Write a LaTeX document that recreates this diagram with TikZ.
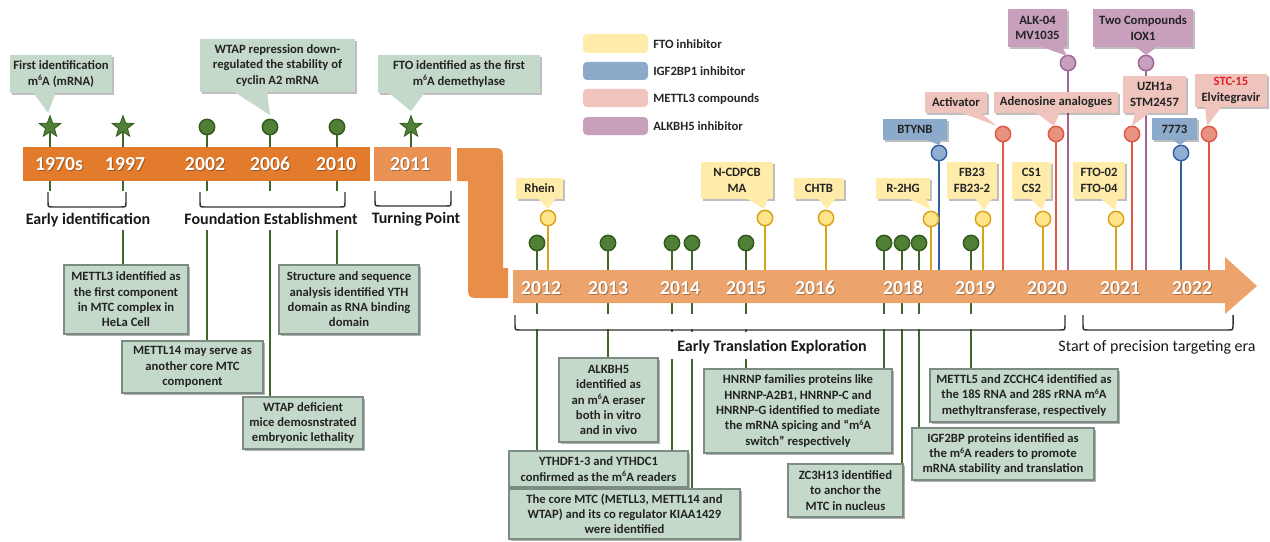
\documentclass[tikz,border=0pt]{standalone}
\usepackage{fontspec}
\setmainfont{Carlito}
\usetikzlibrary{shapes.geometric,shadows,calc}
\definecolor{barA}{RGB}{227,123,44}
\definecolor{barB}{RGB}{234,146,84}
\definecolor{barC}{RGB}{232,142,72}
\definecolor{barD}{RGB}{237,164,108}
\definecolor{boxfill}{RGB}{197,217,202}
\definecolor{boxline}{RGB}{125,140,130}
\definecolor{gline}{RGB}{61,104,40}
\definecolor{gfill}{RGB}{80,128,54}
\definecolor{gdraw}{RGB}{50,90,30}
\definecolor{yfill}{RGB}{255,228,140}
\definecolor{yline}{RGB}{214,164,20}
\definecolor{ybox}{RGB}{255,236,170}
\definecolor{bfill}{RGB}{145,175,210}
\definecolor{bline}{RGB}{50,95,160}
\definecolor{bbox}{RGB}{140,170,202}
\definecolor{rfill}{RGB}{232,146,128}
\definecolor{rline}{RGB}{222,88,70}
\definecolor{rbox}{RGB}{238,196,188}
\definecolor{pfill}{RGB}{200,160,190}
\definecolor{pline}{RGB}{160,100,150}
\definecolor{pbox}{RGB}{200,160,187}
\definecolor{txt}{RGB}{35,35,35}
\definecolor{stcred}{RGB}{230,30,40}
\pgfdeclarelayer{lnl}
\pgfdeclarelayer{barl}
\pgfdeclarelayer{bandl}
\pgfsetlayers{lnl,barl,bandl,main}
\newcommand\rnode[7]{\node[#1, minimum width={(#5-#3)*0.75pt}, minimum height={(#6-#4)*0.75pt}] (#2) at ({(#3+#5)/2},{(#4+#6)/2}) {#7};}
\newcommand\ptr[6]{\fill[#1] ($(#3,0 |- #2.south)+(0,-1)$) -- (#5,#6) -- ($(#4,0 |- #2.south)+(0,-1)$) -- cycle;}
\newcommand\yr[4]{\node[yrs] (#1s) at ({#2+1},{#3+1}) {#4};\node[yr] (#1) at (#2,#3) {#4};}
\newcommand\brk[4]{\draw[brk] (#1,#3) -- (#1,#4-5) .. controls (#1,#4) .. (#1+5,#4) -- (#2-5,#4) .. controls (#2,#4) .. (#2,#4-5) -- (#2,#3);}
\newcommand\sx[1]{\raisebox{0.33em}{\fontsize{6}{6}\selectfont #1}}
\tikzset{
  gl/.style={draw=gline, line width=1.5pt},
  yl/.style={draw=yline, line width=1.5pt},
  bl/.style={draw=bline, line width=1.5pt},
  rl/.style={draw=rline, line width=1.5pt},
  pl/.style={draw=pline, line width=1.5pt},
  dot/.style={circle, inner sep=0pt, minimum size=11.5pt, line width=1.1pt},
  gdot/.style={dot, fill=gfill, draw=gdraw},
  ydot/.style={dot, fill=yfill, draw=yline},
  bdot/.style={dot, fill=bfill, draw=bline},
  rdot/.style={dot, fill=rfill, draw=rline},
  pdot/.style={dot, fill=pfill, draw=pline},
  gstar/.style={star, star points=5, star point ratio=2.4, fill=gfill, draw=gdraw, line width=0.6pt, inner sep=0pt, minimum size=17pt},
  btxt/.style={font=\fontsize{9.5}{11.5}\selectfont\bfseries, text=txt, align=center, inner sep=0pt},
  ebox/.style={btxt, draw=boxline, line width=0.8pt, fill=boxfill, drop shadow={shadow xshift=1.5pt, shadow yshift=-1.5pt, fill=black, opacity=0.3}},
  cbox/.style={btxt, fill=#1, drop shadow={shadow xshift=1.2pt, shadow yshift=-1.2pt, fill=black, opacity=0.25}},
  yr/.style={text=white, font=\fontsize{14.8}{16}\selectfont\bfseries, inner sep=0pt},
  yrs/.style={text=black, opacity=0.3, font=\fontsize{14.8}{16}\selectfont\bfseries, inner sep=0pt},
  lab/.style={font=\fontsize{12}{14}\selectfont\bfseries, text=black!90, inner sep=0pt, anchor=base},
  labr/.style={font=\fontsize{12}{14}\selectfont, text=black!90, inner sep=0pt, anchor=base},
  brk/.style={draw=black!80, line width=1.1pt},
  leg/.style={fill=#1, rounded corners=3pt, inner sep=0pt},
  legt/.style={font=\fontsize{9.5}{11}\selectfont\bfseries, text=black!85, inner sep=0pt, anchor=base west},
}
\begin{document}
\begin{tikzpicture}[x=0.75pt,y=-0.75pt]
\useasboundingbox (0,0) rectangle (1270,542);

% ---------- bars ----------
\begin{pgfonlayer}{barl}
\rnode{fill=barA, inner sep=0pt}{bar1}{23}{147}{370}{181}{}
\rnode{fill=barB, inner sep=0pt}{bar2}{374}{147}{451}{181}{}
\fill[barC] (457,148) -- (489,148) .. controls (503,148) .. (503,162) -- (503,268) -- (508,268) -- (508,298) -- (482,298) .. controls (468,298) .. (468,284) -- (468,181) -- (457,181) -- cycle;
\fill[barD] (513,270) -- (1225,270) -- (1225,257) -- (1257,286) -- (1225,314) -- (1225,303) -- (513,303) -- cycle;
\end{pgfonlayer}
\coordinate (bar3top) at (0,270);
\coordinate (stub1) at (0,200);

% ---------- top markers ----------
\node[gstar] (s70) at (50,127) {};
\node[gstar] (s97) at (123,127) {};
\node[gdot] (d02) at (207,127) {};
\node[gdot] (d06) at (270,127) {};
\node[gdot] (d10) at (337,127) {};
\node[gstar] (s11) at (411,127) {};

% ---------- lower markers ----------
\node[gdot] (g12) at (537,243) {};
\node[gdot] (g13) at (608,243) {};
\node[gdot] (g14a) at (672,243) {};
\node[gdot] (g14b) at (692,243) {};
\node[gdot] (g15) at (746,243) {};
\node[gdot] (g18a) at (884,243) {};
\node[gdot] (g18b) at (902,243) {};
\node[gdot] (g18c) at (919,243) {};
\node[gdot] (g19) at (971,243) {};
\node[ydot] (yrh) at (548,218) {};
\node[ydot] (ync) at (765,218) {};
\node[ydot] (ych) at (826,218) {};
\node[ydot] (yr2) at (931,219) {};
\node[ydot] (yfb) at (983,219) {};
\node[ydot] (ycs) at (1043,219) {};
\node[ydot] (yft) at (1116,219) {};
\node[bdot] (bbt) at (939,153) {};
\node[bdot] (b77) at (1181,153) {};
\node[rdot] (rac) at (1003,134) {};
\node[rdot] (rad) at (1056,134) {};
\node[rdot] (ruz) at (1132,134) {};
\node[rdot] (rst) at (1209,134) {};
\node[pdot] (pal) at (1068,63) {};
\node[pdot] (ptw) at (1146,63) {};

% ---------- top callouts ----------
\rnode{cbox=boxfill}{cA}{10}{55}{112}{93}{First identification\\m\sx{6}A (mRNA)}
\ptr{boxfill}{cA}{33}{56}{48}{113}
\rnode{cbox=boxfill}{cB}{200}{39}{355}{92}{WTAP repression down-\\regulated the stability of\\cyclin A2 mRNA}
\ptr{boxfill}{cB}{233}{267}{270}{115}
\rnode{cbox=boxfill}{cC}{378}{55}{540}{93}{FTO identified as the first\\m\sx{6}A demethylase}
\ptr{boxfill}{cC}{388}{425}{411}{111}

% ---------- lower callouts ----------
\rnode{cbox=ybox}{kRh}{516}{178}{563}{199}{Rhein}
\ptr{ybox}{kRh}{538}{556}{548}{209}
\rnode{cbox=ybox}{kNc}{701}{162}{773}{199}{N-CDPCB\\MA}
\ptr{ybox}{kNc}{746}{768}{764}{209}
\rnode{cbox=ybox}{kCh}{794}{178}{844}{199}{CHTB}
\ptr{ybox}{kCh}{818}{836}{827}{209}
\rnode{cbox=ybox}{kR2}{876}{178}{930}{199}{R-2HG}
\ptr{ybox}{kR2}{908}{926}{931}{210}
\rnode{cbox=ybox}{kFb}{947}{162}{997}{199}{FB23\\FB23-2}
\ptr{ybox}{kFb}{975}{992}{984}{210}
\rnode{cbox=ybox}{kCs}{1012}{162}{1051}{199}{CS1\\CS2}
\ptr{ybox}{kCs}{1030}{1046}{1042}{210}
\rnode{cbox=ybox}{kFt}{1073}{162}{1125}{199}{FTO-02\\FTO-04}
\ptr{ybox}{kFt}{1100}{1118}{1115}{210}
\rnode{cbox=bbox}{kBt}{883}{119}{947}{140}{BTYNB}
\ptr{bbox}{kBt}{925}{942}{939}{145}
\rnode{cbox=bbox}{k77}{1152}{118}{1197}{140}{7773}
\ptr{bbox}{k77}{1172}{1188}{1180}{145}
\rnode{cbox=rbox}{kAc}{925}{92}{987}{113}{Activator}
\ptr{rbox}{kAc}{960}{980}{997}{126}
\rnode{cbox=rbox}{kAd}{994}{92}{1118}{113}{Adenosine analogues}
\ptr{rbox}{kAd}{1035}{1060}{1054}{126}
\rnode{cbox=rbox}{kUz}{1123}{76}{1186}{113}{UZH1a\\STM2457}
\ptr{rbox}{kUz}{1135}{1150}{1132}{126}
\rnode{cbox=rbox}{kSt}{1195}{74}{1267}{107}{{\color{stcred}STC-15}\\Elvitegravir}
\ptr{rbox}{kSt}{1205}{1222}{1207}{126}
\rnode{cbox=pbox}{kAl}{1008}{9}{1067}{47}{ALK-04\\MV1035}
\ptr{pbox}{kAl}{1040}{1062}{1067}{56}
\rnode{cbox=pbox}{kTw}{1093}{9}{1193}{47}{Two Compounds\\IOX1}
\ptr{pbox}{kTw}{1135}{1158}{1146}{55}

% ---------- lower boxes ----------
\rnode{ebox}{b1}{64}{265}{188}{334}{METTL3 identified as\\the first component\\in MTC complex in\\HeLa Cell}
\rnode{ebox}{b2}{122}{341}{263}{393}{METTL14 may serve as\\another core MTC\\component}
\rnode{ebox}{b3}{243}{397}{363}{449}{WTAP deficient\\mice demosnstrated\\embryonic lethality}
\rnode{ebox}{b4}{279}{265}{419}{334}{Structure and sequence\\analysis identified YTH\\domain as RNA binding\\domain}
\rnode{ebox}{bA}{559}{358}{658}{442}{ALKBH5\\identified as\\an m\sx{6}A eraser\\both in vitro\\and in vivo}
\rnode{ebox}{bY}{509}{451}{688}{487}{YTHDF1-3 and YTHDC1\\confirmed as the m\sx{6}A readers}
\rnode{ebox}{bC}{509}{489}{740}{539}{The core MTC (METLL3, METTL14 and\\WTAP) and its co regulator KIAA1429\\were identified}
\rnode{ebox}{bH}{704}{369}{892}{453}{HNRNP families proteins like\\HNRNP-A2B1, HNRNP-C and\\HNRNP-G identified to mediate\\the mRNA spicing and “m\sx{6}A\\switch” respectively}
\rnode{ebox}{bZ}{788}{464}{903}{517}{ZC3H13 identified\\to anchor the\\MTC in nucleus}
\rnode{ebox}{bM}{930}{369}{1118}{422}{METTL5 and ZCCHC4 identified as\\the 18S RNA and 28S rRNA m\sx{6}A\\methyltransferase, respectively}
\rnode{ebox}{bI}{912}{428}{1094}{480}{IGF2BP proteins identified as\\the m\sx{6}A readers to promote\\mRNA stability and translation}

% ---------- connectors ----------
\begin{pgfonlayer}{lnl}
\draw[gl] (s70.center) -- (s70.center |- stub1);
\draw[gl] (s97.center) -- (s97.center |- b1.north);
\draw[gl] (d02.center) -- (d02.center |- b2.north);
\draw[gl] (d06.center) -- (d06.center |- b3.north);
\draw[gl] (d10.center) -- (d10.center |- b4.north);
\draw[gl] (s11.center) -- (s11.center |- bar2.north);
\draw[gl] (g12.center) -- (g12.center |- bY.north);
\draw[gl] (g13.center) -- (g13.center |- bA.north);
\draw[gl] (g14a.center) -- (g14a.center |- bY.north);
\draw[gl] (g14b.center) -- (g14b.center |- bC.north);
\draw[gl] (g15.center) -- (g15.center |- bH.north);
\draw[gl] (g18a.center) -- (g18a.center |- bH.north);
\draw[gl] (g18b.center) -- (g18b.center |- bZ.north);
\draw[gl] (g18c.center) -- (g18c.center |- bI.north);
\draw[gl] (g19.center) -- (g19.center |- bM.north);
\foreach \m in {yrh,ync,ych,yr2,yfb,ycs,yft} \draw[yl] (\m.center) -- (\m.center |- bar3top);
\foreach \m in {bbt,b77} \draw[bl] (\m.center) -- (\m.center |- bar3top);
\foreach \m in {rac,rad,ruz,rst} \draw[rl] (\m.center) -- (\m.center |- bar3top);
\foreach \m in {pal,ptw} \draw[pl] (\m.center) -- (\m.center |- bar3top);
\end{pgfonlayer}

% ---------- brackets ----------
\begin{pgfonlayer}{bandl}
\fill[white] (20,191) rectangle (455,230);
\fill[white] (505,314) rectangle (1240,329);
\fill[white] (665,332) rectangle (878,359);
\brk{48}{126}{192}{207}
\brk{200}{345}{192}{207}
\brk{375}{451}{191}{206}
\brk{515}{1065}{315}{330}
\brk{1083}{1233}{315}{330}
\end{pgfonlayer}
\node[lab] (l1) at (88,224) {Early identification};
\node[lab] (l2) at (271,224) {Foundation Establishment};
\node[lab] (l3) at (416,223) {Turning Point};
\node[lab] (l4) at (772,351) {Early Translation Exploration};
\node[labr] (l5) at (1157,351) {Start of precision targeting era};

% ---------- years ----------
\yr{y1970}{59}{164}{1970s}
\yr{y1997}{125}{164}{1997}
\yr{y2002}{205}{164}{2002}
\yr{y2006}{270}{164}{2006}
\yr{y2010}{336}{164}{2010}
\yr{y2011}{410}{164}{2011}
\yr{y2012}{541}{288}{2012}
\yr{y2013}{608}{288}{2013}
\yr{y2014}{680}{288}{2014}
\yr{y2015}{746}{288}{2015}
\yr{y2016}{815}{288}{2016}
\yr{y2018}{903}{288}{2018}
\yr{y2019}{975}{288}{2019}
\yr{y2020}{1047}{288}{2020}
\yr{y2021}{1120}{288}{2021}
\yr{y2022}{1192}{288}{2022}

% ---------- legend ----------
\rnode{leg=ybox}{lg1}{583}{34}{648}{53}{}
\rnode{leg=bbox}{lg2}{583}{62}{648}{80}{}
\rnode{leg=rbox}{lg3}{583}{89}{648}{107}{}
\rnode{leg=pbox}{lg4}{583}{117}{648}{135}{}
\node[legt] (lt1) at (653,48.3) {FTO inhibitor};
\node[legt] (lt2) at (653,75.3) {IGF2BP1 inhibitor};
\node[legt] (lt3) at (653,103) {METTL3 compounds};
\node[legt] (lt4) at (653,130) {ALKBH5 inhibitor};
\end{tikzpicture}
\end{document}
